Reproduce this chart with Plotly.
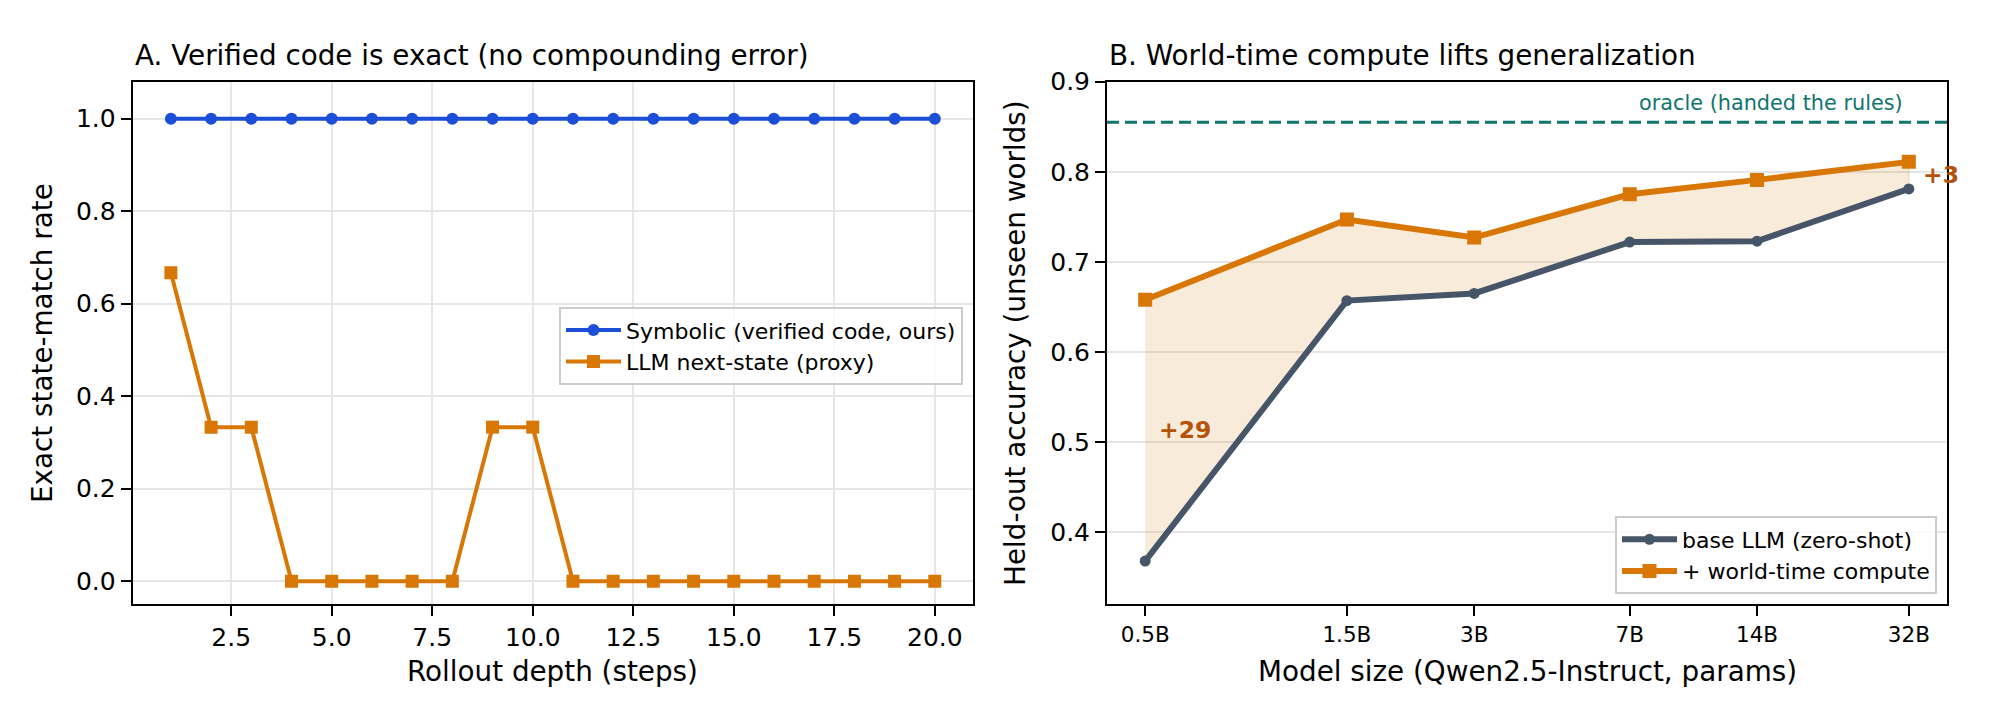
import math
import plotly.graph_objects as go

# ---------------- data ----------------
depth = list(range(1, 21))
symbolic = [1.0] * 20
llm_proxy = [0.667, 0.333, 0.333, 0.0, 0.0, 0.0, 0.0, 0.0, 0.333, 0.333,
             0.0, 0.0, 0.0, 0.0, 0.0, 0.0, 0.0, 0.0, 0.0, 0.0]

size_labels = ["0.5B", "1.5B", "3B", "7B", "14B", "32B"]
params_b = [0.5, 1.5, 3, 7, 14, 32]
base_acc = [0.368, 0.657, 0.665, 0.722, 0.723, 0.781]
wtc_acc = [0.658, 0.747, 0.727, 0.775, 0.791, 0.811]
oracle_acc = 0.855

# ---------------- styling ----------------
W, H = 2000, 720
FONT = "DejaVu Sans"
BLUE = "#1d4ed8"
ORANGE = "#d97706"
SLATE = "#475569"
TEAL = "#0f766e"
BROWN = "#b45309"
GRID = "#e6e6e6"

def px_x(p):
    return p / W

def px_y(p):
    return 1 - p / H

A_L, A_R = 132.7, 973.0
B_L, B_R = 1107.0, 1947.0
TOP, BOT = 69.0, 602.0

fig = go.Figure()

# Panel A
fig.add_trace(go.Scatter(
    x=depth, y=symbolic, mode="lines+markers", name="Symbolic (verified code, ours)",
    line=dict(color=BLUE, width=4), marker=dict(symbol="circle", size=12, color=BLUE),
    xaxis="x", yaxis="y", legend="legend"))
fig.add_trace(go.Scatter(
    x=depth, y=llm_proxy, mode="lines+markers", name="LLM next-state (proxy)",
    line=dict(color=ORANGE, width=4), marker=dict(symbol="square", size=13, color=ORANGE),
    xaxis="x", yaxis="y", legend="legend"))

# Panel B fill polygon
fig.add_trace(go.Scatter(
    x=params_b + params_b[::-1], y=base_acc + wtc_acc[::-1], mode="lines",
    fill="toself", fillcolor="rgba(217,119,6,0.15)",
    line=dict(color="rgba(217,119,6,0.15)", width=2),
    hoverinfo="skip", showlegend=False, xaxis="x2", yaxis="y2"))
fig.add_trace(go.Scatter(
    x=params_b, y=base_acc, mode="lines+markers", name="base LLM (zero-shot)",
    line=dict(color=SLATE, width=6), marker=dict(symbol="circle", size=11, color=SLATE),
    xaxis="x2", yaxis="y2", legend="legend2"))
fig.add_trace(go.Scatter(
    x=params_b, y=wtc_acc, mode="lines+markers", name="+ world-time compute",
    line=dict(color=ORANGE, width=6), marker=dict(symbol="square", size=14, color=ORANGE),
    xaxis="x2", yaxis="y2", legend="legend2"))

axis_common = dict(
    showline=True, mirror=True, linecolor="black", linewidth=2,
    ticks="outside", ticklen=10, tickwidth=2, tickcolor="black",
    tickfont=dict(family=FONT, size=25, color="black"),
    zeroline=False, gridcolor=GRID, gridwidth=2,
)

lx0 = math.log10(params_b[0])
lx1 = math.log10(params_b[-1])
pad = 0.05 * (lx1 - lx0)

fig.update_layout(
    width=W, height=H, margin=dict(l=0, r=0, t=0, b=0),
    paper_bgcolor="white", plot_bgcolor="white",
    font=dict(family=FONT, color="black"),
    xaxis=dict(domain=[px_x(A_L), px_x(A_R)], range=[0.05, 20.95], tick0=0, dtick=2.5,
               tickformat=".1f", showgrid=True, anchor="y", **axis_common),
    yaxis=dict(domain=[px_y(BOT), px_y(TOP)], range=[-0.05, 1.08], tick0=0, dtick=0.2,
               tickformat=".1f", showgrid=True, anchor="x", **axis_common),
    xaxis2=dict(domain=[px_x(B_L), px_x(B_R)], type="log", range=[lx0 - pad, lx1 + pad],
                tickmode="array", tickvals=params_b, ticktext=size_labels, showgrid=False,
                anchor="y2", **{**axis_common, "tickfont": dict(family=FONT, size=21.5, color="black")}),
    yaxis2=dict(domain=[px_y(BOT), px_y(TOP)], range=[0.32, 0.9], tick0=0, dtick=0.1,
                tickformat=".1f", showgrid=True, anchor="x2", **axis_common),
    legend=dict(x=px_x(963), y=px_y(299), xanchor="right", yanchor="top",
                bgcolor="rgba(255,255,255,0.8)", bordercolor="#cccccc", borderwidth=2,
                itemwidth=55,
                font=dict(family=FONT, size=22, color="black")),
    legend2=dict(x=px_x(1937), y=px_y(592), xanchor="right", yanchor="bottom",
                 bgcolor="rgba(255,255,255,0.8)", bordercolor="#cccccc", borderwidth=2,
                 itemwidth=55,
                 font=dict(family=FONT, size=22, color="black")),
)

# oracle line
fig.add_shape(type="line", xref="x2 domain", yref="y2", x0=0, x1=1, y0=oracle_acc, y1=oracle_acc,
              line=dict(color=TEAL, width=3, dash="12px,6px"))

ann = []
ann.append(dict(text="oracle (handed the rules)", xref="x2", yref="y2", x=lx1, y=oracle_acc + 0.021,
                xanchor="right", yanchor="middle", showarrow=False, xshift=-4,
                font=dict(family=FONT, size=20.8, color=TEAL)))
for i in (0, len(params_b) - 1):
    gain = round((wtc_acc[i] - base_acc[i]) * 100)
    ann.append(dict(text=f"<b>+{gain}</b>", xref="x2", yref="y2", x=math.log10(params_b[i]),
                    y=(wtc_acc[i] + base_acc[i]) / 2, xanchor="left", yanchor="middle",
                    xshift=12, showarrow=False, font=dict(family=FONT, size=23.5, color=BROWN)))

# titles
ann.append(dict(text="A. Verified code is exact (no compounding error)", xref="paper", yref="paper",
                x=px_x(A_L), y=px_y(42), xanchor="left", yanchor="middle", showarrow=False,
                font=dict(family=FONT, size=27.8, color="black")))
ann.append(dict(text="B. World-time compute lifts generalization", xref="paper", yref="paper",
                x=px_x(B_L), y=px_y(42), xanchor="left", yanchor="middle", showarrow=False,
                font=dict(family=FONT, size=27.8, color="black")))
# axis titles
ann.append(dict(text="Rollout depth (steps)", xref="paper", yref="paper",
                x=px_x((A_L + A_R) / 2), y=px_y(671), xanchor="center", yanchor="middle",
                showarrow=False, font=dict(family=FONT, size=27.8, color="black")))
ann.append(dict(text="Model size (Qwen2.5-Instruct, params)", xref="paper", yref="paper",
                x=px_x((B_L + B_R) / 2), y=px_y(671), xanchor="center", yanchor="middle",
                showarrow=False, font=dict(family=FONT, size=27.8, color="black")))
ann.append(dict(text="Exact state-match rate", xref="paper", yref="paper",
                x=px_x(43), y=px_y((TOP + BOT) / 2), xanchor="center", yanchor="middle",
                textangle=-90, showarrow=False, font=dict(family=FONT, size=27.8, color="black")))
ann.append(dict(text="Held-out accuracy (unseen worlds)", xref="paper", yref="paper",
                x=px_x(1016), y=px_y((TOP + BOT) / 2), xanchor="center", yanchor="middle",
                textangle=-90, showarrow=False, font=dict(family=FONT, size=27.8, color="black")))

fig.update_layout(annotations=ann)
fig.write_html("out.html")
